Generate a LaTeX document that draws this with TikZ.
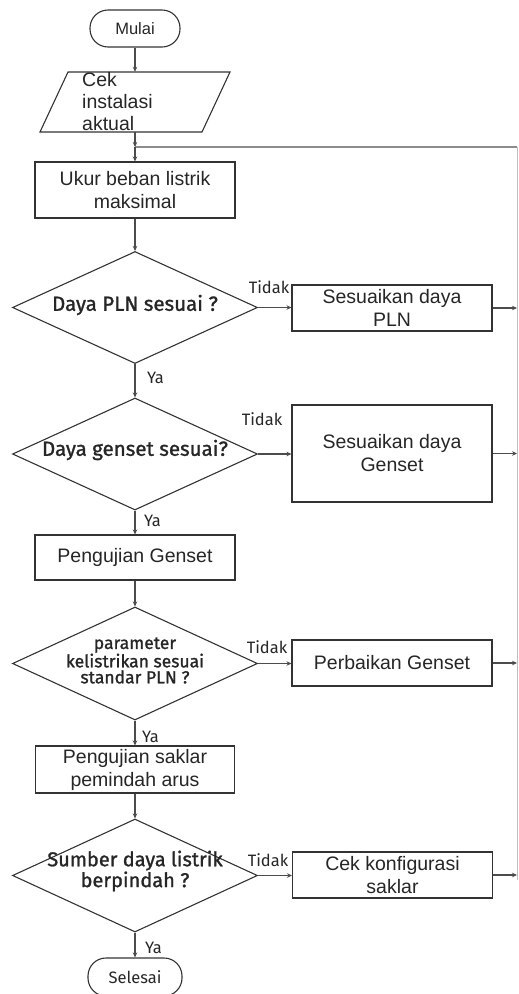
\documentclass[tikz,border=0pt]{standalone}
\usepackage{fontspec}
\setmainfont{Liberation Sans}
\newfontfamily\dinfont[BoldFont={Fira Sans},BoldFeatures={FakeBold=1.2}]{Fira Sans}
\usetikzlibrary{shapes.geometric,arrows.meta}
\begin{document}
\begin{tikzpicture}[x=1pt,y=-1pt,
 shapeline/.style={draw=black!80,line width=1.1pt},
 procbox/.style={shapeline,rectangle,inner sep=0pt,align=center,font=\fontsize{19.5}{23}\selectfont,text=black!85},
 dia/.style={shapeline,diamond,inner sep=0pt,minimum width=245pt,minimum height=112pt},
 dtext/.style={align=center,inner sep=0pt,font=\dinfont\bfseries\fontsize{20.5}{20}\selectfont,text=black!85},
 term/.style={shapeline,rectangle,rounded corners=18pt,inner sep=0pt,minimum height=37pt,text=black!85},
 conn/.style={draw=black!70,line width=1.2pt,-{Stealth[length=5pt,width=4.5pt]}},
 lbl/.style={inner sep=0pt,font=\dinfont\fontsize{16.5}{18}\selectfont,text=black!85},
]
\useasboundingbox (0,0) rectangle (519,994);
\fill[white] (0,0) rectangle (519,994);

% main column
\node[term,minimum width=90pt,font=\fontsize{16.5}{18}\selectfont] (start) at (135,28.5) {Mulai};
\node[inner sep=0pt,minimum width=162pt,minimum height=60pt] (input) at (135,102) {};
\draw[shapeline] (68,72) -- (230,72) -- (202,132) -- (40,132) -- cycle;
\node[inner sep=0pt,anchor=west,align=left,font=\fontsize{19.5}{22}\selectfont,text=black!85] (inputtext) at (82,102) {Cek\\instalasi\\aktual};
\coordinate (junc) at (135,147);
\node[procbox,minimum width=200pt,minimum height=56pt] (measure) at (135,190) {Ukur beban listrik\\maksimal};
\node[dia] (d1) at (135,307.5) {};
\node[dtext] (d1t) at (135,305) {Daya PLN sesuai ?};
\node[dia] (d2) at (135,454) {};
\node[dtext] (d2t) at (135,450) {Daya genset sesuai?};
\node[procbox,minimum width=200pt,minimum height=45pt] (testgen) at (135,557.5) {Pengujian Genset};
\node[dia,minimum height=113pt] (d3) at (135,663.5) {};
\node[dtext,font=\dinfont\bfseries\fontsize{17.5}{16}\selectfont] (d3t) at (135,660.5) {parameter\\kelistrikan sesuai\\standar PLN ?};
\node[procbox,minimum width=199pt,minimum height=47pt] (testsw) at (135,769.5) {Pengujian saklar\\pemindah arus};
\node[dia,minimum height=113pt] (d4) at (135,875.5) {};
\node[dtext,font=\dinfont\bfseries\fontsize{20}{12.5}\selectfont] (d4t) at (135,871) {Sumber daya listrik\\berpindah ?};
\node[term,minimum width=94pt,minimum height=38pt,font=\dinfont\fontsize{16.5}{18}\selectfont] (stop) at (135,977) {Selesai};

% right column
\node[procbox,minimum width=200pt,minimum height=46pt] (fixpln) at (392,308) {Sesuaikan daya\\PLN};
\node[procbox,minimum width=200pt,minimum height=97pt] (fixgen) at (392,453.5) {Sesuaikan daya\\Genset};
\node[procbox,minimum width=200pt,minimum height=46pt] (repgen) at (392,663) {Perbaikan Genset};
\node[procbox,minimum width=200pt,minimum height=46pt] (cfgsw) at (392.5,875) {Cek konfigurasi\\saklar};

\coordinate (r1) at (517,308);
\coordinate (r2) at (517,453.5);
\coordinate (r3) at (517,663);
\coordinate (r4) at (517,875);
\coordinate (rbot) at (517,880);
\coordinate (rtop) at (517,147);

% loop lines
\draw[draw=black!25,line width=0.8pt] (rbot) -- (rtop);
\draw[draw=black!45,line width=1.6pt] (rtop) -- (junc);

% vertical connectors
\draw[conn] (start.south) -- (input.north);
\draw[conn] (input.south) -- (junc);
\draw[conn] (junc) -- (measure.north);
\draw[conn] (measure.south) -- (d1.north);
\draw[conn] (d1.south) -- (d2.north);
\draw[conn] (d2.south) -- (testgen.north);
\draw[conn] (testgen.south) -- (d3.north);
\draw[conn] (d3.south) -- (testsw.north);
\draw[conn] (testsw.south) -- (d4.north);
\draw[conn] (d4.south) -- (stop.north);

% horizontal connectors
\draw[conn] (d1.east) -- (d1.east -| fixpln.west);
\draw[conn] (d2.east) -- (d2.east -| fixgen.west);
\draw[conn] (d3.east) -- (d3.east -| repgen.west);
\draw[conn] (d4.east) -- (d4.east -| cfgsw.west);
\draw[conn] (fixpln.east) -- (r1);
\draw[conn] (fixgen.east) -- (r2);
\draw[conn] (repgen.east) -- (r3);
\draw[conn] (cfgsw.east) -- (r4);

% labels
\node[lbl] (t1) at (269,287) {Tidak};
\node[lbl] (t2) at (262,419) {Tidak};
\node[lbl] (t3) at (267,647) {Tidak};
\node[lbl] (t4) at (268,860) {Tidak};
\node[lbl,anchor=west] (y1) at (147,378) {Ya};
\node[lbl,anchor=west] (y2) at (144,521) {Ya};
\node[lbl,anchor=west] (y3) at (142,737) {Ya};
\node[lbl,anchor=west] (y4) at (145,948) {Ya};
\end{tikzpicture}
\end{document}
